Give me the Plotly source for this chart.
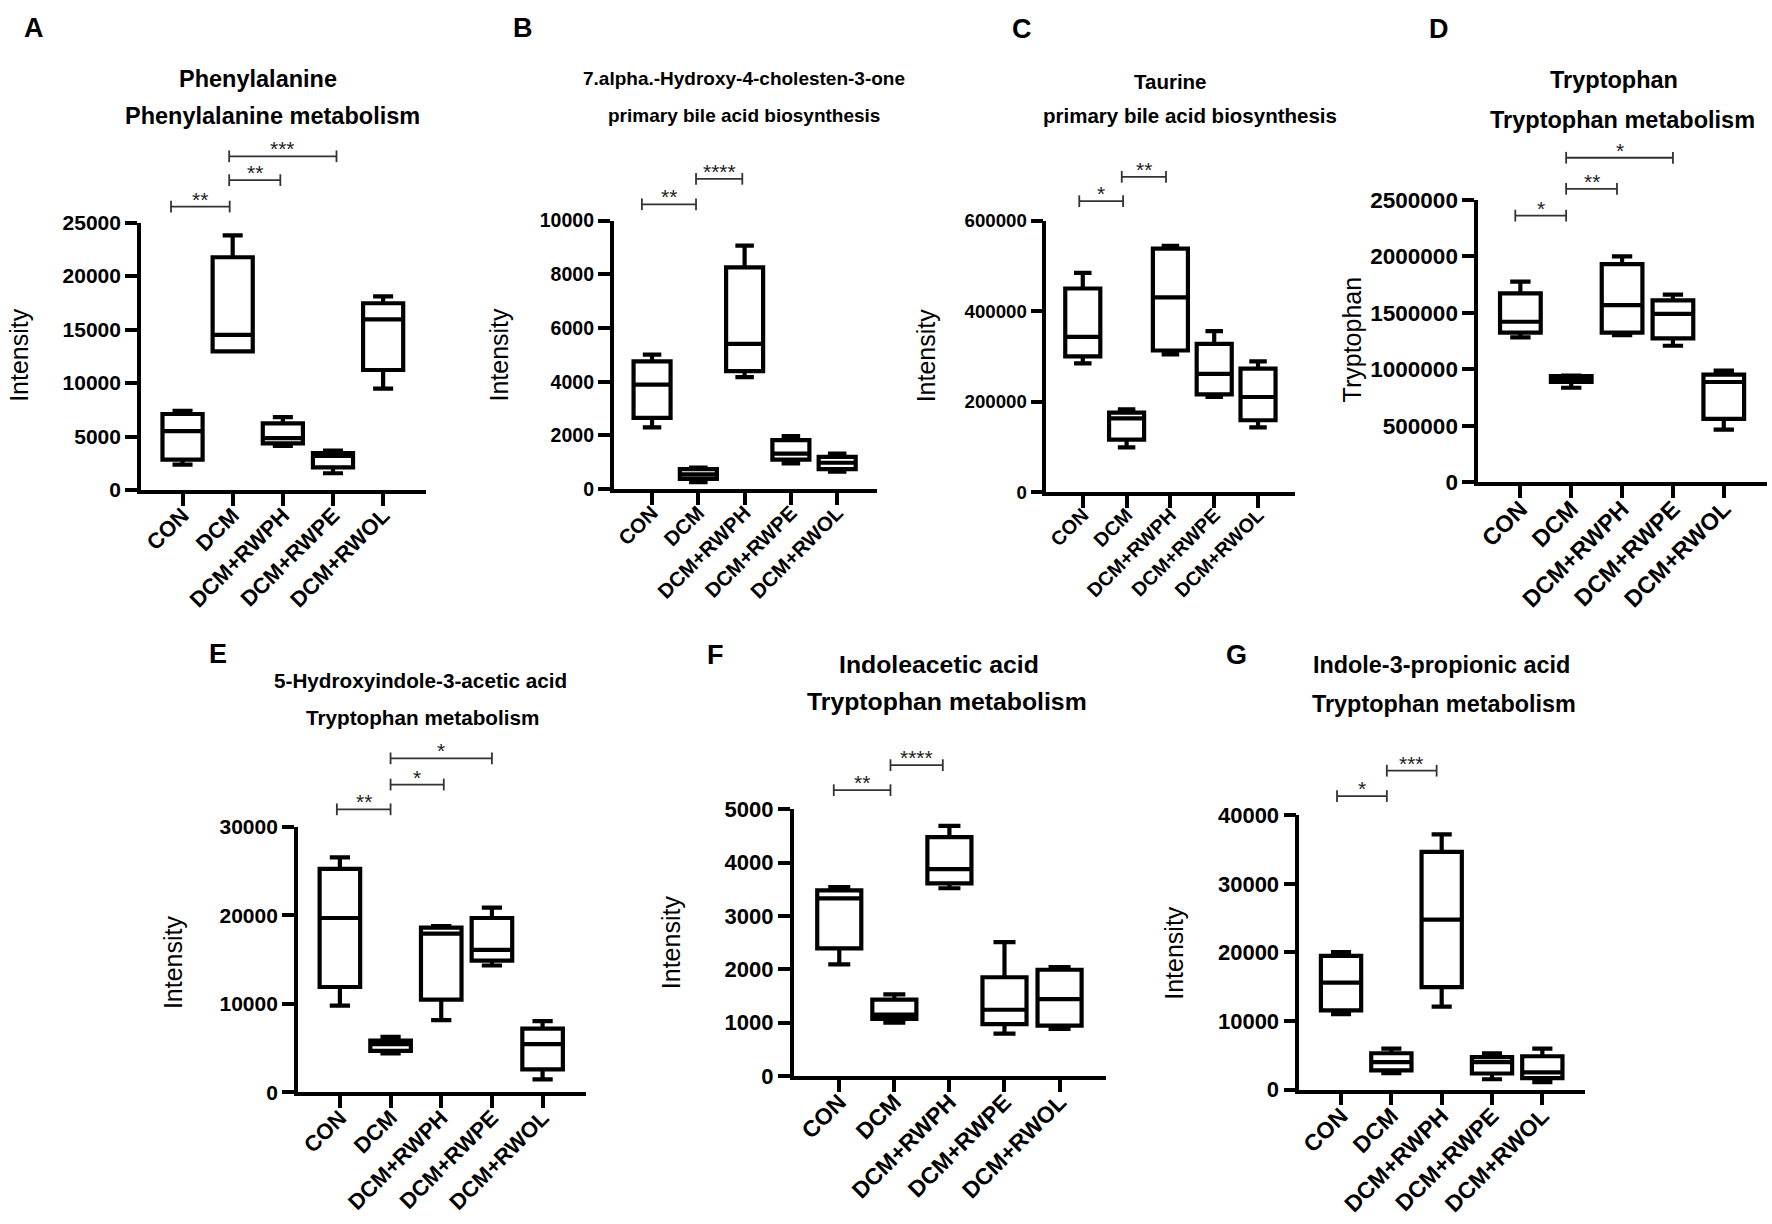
import plotly.graph_objects as go

W, H = 1772, 1224
FONT = "Liberation Sans, Arial, sans-serif"

groups = ['CON', 'DCM', 'DCM+RWPH', 'DCM+RWPE', 'DCM+RWOL']
pos = [0, 1, 2, 3, 4]

# A  Phenylalanine
a_low = [2370, 12970, 4120, 1570, 9480]
a_q1 = [2840, 12970, 4370, 2110, 11220]
a_med = [5500, 14500, 4850, 3200, 15960]
a_q3 = [7110, 21760, 6230, 3460, 17460]
a_high = [7400, 23800, 6820, 3680, 18110]
a_sig = [(-0.23, 0.94, 26500, '**'), (0.93, 1.95, 28970, '**'), (0.93, 3.07, 31200, '***')]

# B  7.alpha.-Hydroxy-4-cholesten-3-one
b_low = [2300, 260, 4170, 960, 650]
b_q1 = [2650, 380, 4390, 1100, 740]
b_med = [3890, 550, 5410, 1320, 980]
b_q3 = [4760, 740, 8260, 1820, 1200]
b_high = [5010, 800, 9070, 1970, 1320]
b_sig = [(-0.22, 0.95, 10610, '**'), (0.95, 1.95, 11560, '****')]

# C  Taurine
c_low = [284600, 98600, 304300, 210000, 143100]
c_q1 = [300000, 115700, 312900, 216000, 158600]
c_med = [342900, 162900, 430300, 261400, 210000]
c_q3 = [450000, 175700, 538300, 327400, 272600]
c_high = [484300, 182600, 544300, 355700, 288900]
c_sig = [(-0.08, 0.92, 643000, '*'), (0.89, 1.9, 697000, '**')]

# D  Tryptophan
d_low = [1284000, 837000, 1302000, 1209000, 465000]
d_q1 = [1326000, 888000, 1326000, 1274000, 561000]
d_med = [1422000, 906000, 1570000, 1491000, 888000]
d_q3 = [1674000, 940000, 1932000, 1612000, 954000]
d_high = [1777000, 945000, 2001000, 1663000, 988000]
d_sig = [(-0.1, 0.9, 2362000, '*'), (0.9, 1.9, 2600000, '**'), (0.9, 3.0, 2875000, '*')]

# E  5-Hydroxyindole-3-acetic acid
e_low = [9820, 4410, 8180, 14350, 1470]
e_q1 = [11920, 4700, 10490, 14900, 2600]
e_med = [19720, 5460, 17960, 16110, 5460]
e_q3 = [25260, 5870, 18630, 19720, 7220]
e_high = [26560, 6290, 18800, 20900, 8060]
e_sig = [(-0.06, 1.0, 32000, '**'), (1.0, 2.05, 34800, '*'), (1.0, 3.0, 37760, '*')]

# F  Indoleacetic acid
f_low = [2090, 1000, 3520, 790, 880]
f_q1 = [2390, 1070, 3610, 970, 940]
f_med = [3330, 1150, 3880, 1240, 1440]
f_q3 = [3480, 1430, 4480, 1850, 1990]
f_high = [3540, 1530, 4690, 2510, 2040]
f_sig = [(-0.1, 0.93, 5360, '**'), (0.93, 1.88, 5830, '****')]

# G  Indole-3-propionic acid
g_low = [10980, 2400, 12090, 1500, 1060]
g_q1 = [11530, 2790, 14930, 2340, 1670]
g_med = [15600, 4010, 24790, 4010, 2510]
g_q3 = [19500, 5290, 34650, 4740, 4850]
g_high = [20060, 5960, 37210, 5290, 5960]
g_sig = [(-0.08, 0.91, 42800, '*'), (0.91, 1.9, 46500, '***')]

# layout of each panel in pixels: plot box (left, top, right, bottom), font sizes, text positions
panels = [
    dict(letter='A', stats=(a_low, a_q1, a_med, a_q3, a_high), sig=a_sig, ymax=25000, dtick=5000,
         titles=['Phenylalanine', 'Phenylalanine metabolism'], ytitle='Intensity',
         box=(140, 215, 425, 488), tfs=21, tsz=23.5,
         lab=(33, 16), t1=(257, 68), t2=(272, 106), yt=(18, 350)),
    dict(letter='B', stats=(b_low, b_q1, b_med, b_q3, b_high), sig=b_sig, ymax=10000, dtick=2000,
         titles=['7.alpha.-Hydroxy-4-cholesten-3-one', 'primary bile acid biosynthesis'], ytitle='Intensity',
         box=(613, 213, 876, 487), tfs=19.5, tsz=19,
         lab=(522, 16), t1=(743, 68), t2=(743, 106), yt=(498, 350)),
    dict(letter='C', stats=(c_low, c_q1, c_med, c_q3, c_high), sig=c_sig, ymax=600000, dtick=200000,
         titles=['Taurine', 'primary bile acid biosynthesis'], ytitle='Intensity',
         box=(1046, 213, 1295, 490), tfs=18.7, tsz=20.5,
         lab=(1022, 17), t1=(1170, 71), t2=(1190, 106), yt=(925, 350)),
    dict(letter='D', stats=(d_low, d_q1, d_med, d_q3, d_high), sig=d_sig, ymax=2500000, dtick=500000,
         titles=['Tryptophan', 'Tryptophan metabolism'], ytitle='Tryptophan',
         box=(1478, 192, 1767, 480), tfs=22.5, tsz=23.5,
         lab=(1439, 17), t1=(1614, 69), t2=(1622, 110), yt=(1352, 334)),
    dict(letter='E', stats=(e_low, e_q1, e_med, e_q3, e_high), sig=e_sig, ymax=30000, dtick=10000,
         titles=['5-Hydroxyindole-3-acetic acid', 'Tryptophan metabolism'], ytitle='Intensity',
         box=(297, 832, 585, 1103), tfs=21, tsz=20.7,
         lab=(217, 655), t1=(420, 682), t2=(422, 720), yt=(172, 970)),
    dict(letter='F', stats=(f_low, f_q1, f_med, f_q3, f_high), sig=f_sig, ymax=5000, dtick=1000,
         titles=['Indoleacetic acid', 'Tryptophan metabolism'], ytitle='Intensity',
         box=(793, 814, 1106, 1086), tfs=22, tsz=24.8,
         lab=(715, 656), t1=(939, 666), t2=(947, 704), yt=(670, 950)),
    dict(letter='G', stats=(g_low, g_q1, g_med, g_q3, g_high), sig=g_sig, ymax=40000, dtick=10000,
         titles=['Indole-3-propionic acid', 'Tryptophan metabolism'], ytitle='Intensity',
         box=(1299, 820, 1585, 1100), tfs=22, tsz=23.4,
         lab=(1236, 656), t1=(1441, 667), t2=(1444, 706), yt=(1174, 960)),
]

X_RANGE = [-0.83, 4.85]

fig = go.Figure()
annotations = []
shapes = []


def px(x):
    return x / W


def py(y):
    return 1 - y / H


for n, p in enumerate(panels, start=1):
    sfx = '' if n == 1 else str(n)
    low, q1, med, q3, high = p['stats']
    fig.add_trace(go.Box(
        x=pos, q1=q1, median=med, q3=q3, lowerfence=low, upperfence=high,
        width=0.8, whiskerwidth=0.5, boxpoints=False,
        line=dict(color='black', width=4.2), fillcolor='white',
        showlegend=False, hoverinfo='skip',
        xaxis='x' + sfx, yaxis='y' + sfx,
    ))

    left, top, right, bottom = p['box']
    fig.layout['xaxis' + sfx] = dict(
        domain=[px(left), px(right)], anchor='y' + sfx, range=X_RANGE,
        tickvals=pos, ticktext=groups, tickangle=-45,
        ticks='outside', ticklen=12, tickwidth=3.5, tickcolor='black',
        ticklabelstandoff=-12,
        showline=True, linewidth=3.5, linecolor='black',
        showgrid=False, zeroline=False,
        tickfont=dict(family=FONT, size=p['tfs'] + 1, color='black', weight='bold'),
    )
    fig.layout['yaxis' + sfx] = dict(
        domain=[py(bottom), py(top)], anchor='x' + sfx, range=[0, p['ymax']],
        dtick=p['dtick'], tick0=0, tickformat='d',
        ticks='outside', ticklen=12, tickwidth=3.5, tickcolor='black',
        showline=True, linewidth=3.5, linecolor='black',
        showgrid=False, zeroline=False,
        tickfont=dict(family=FONT, size=p['tfs'], color='black', weight='bold'),
    )

    # significance brackets
    xr = 'x' + sfx + ' domain'
    yr = 'y' + sfx + ' domain'
    cap = 6 / (bottom - top)
    for x0, x1, val, star in p['sig']:
        fx0 = (x0 - X_RANGE[0]) / (X_RANGE[1] - X_RANGE[0])
        fx1 = (x1 - X_RANGE[0]) / (X_RANGE[1] - X_RANGE[0])
        fy = val / p['ymax']
        ln = dict(color='#333333', width=1.8)
        shapes.append(dict(type='line', xref=xr, yref=yr, x0=fx0, x1=fx1, y0=fy, y1=fy, line=ln))
        shapes.append(dict(type='line', xref=xr, yref=yr, x0=fx0, x1=fx0, y0=fy - cap, y1=fy + cap, line=ln))
        shapes.append(dict(type='line', xref=xr, yref=yr, x0=fx1, x1=fx1, y0=fy - cap, y1=fy + cap, line=ln))
        annotations.append(dict(
            text=star, xref=xr, yref=yr, x=(fx0 + fx1) / 2, y=fy,
            xanchor='center', yanchor='bottom', yshift=-6, showarrow=False,
            font=dict(family=FONT, size=21, color='#222222'),
        ))

    # panel letter, titles, y title
    annotations.append(dict(
        text='<b>' + p['letter'] + '</b>', xref='paper', yref='paper',
        x=px(p['lab'][0]), y=py(p['lab'][1]), xanchor='center', yanchor='middle',
        showarrow=False, font=dict(family=FONT, size=27, color='black'),
    ))
    for t, (tx, ty) in zip(p['titles'], [p['t1'], p['t2']]):
        annotations.append(dict(
            text='<b>' + t + '</b>', xref='paper', yref='paper',
            x=px(tx), y=py(ty), xanchor='center', yanchor='middle',
            showarrow=False, font=dict(family=FONT, size=p['tsz'], color='black'),
        ))
    annotations.append(dict(
        text=p['ytitle'], xref='paper', yref='paper', textangle=-90,
        x=px(p['yt'][0]), y=py(p['yt'][1]), xanchor='center', yanchor='middle',
        showarrow=False, font=dict(family=FONT, size=25, color='black'),
    ))

fig.update_layout(
    width=W, height=H,
    margin=dict(l=0, r=0, t=0, b=0),
    paper_bgcolor='white', plot_bgcolor='white',
    annotations=annotations, shapes=shapes,
    showlegend=False,
)

# drop the default page margin so the figure sits at the window's corner
fig.write_html("out.html", config={'displayModeBar': False},
               post_script="document.body.style.margin='0';")
